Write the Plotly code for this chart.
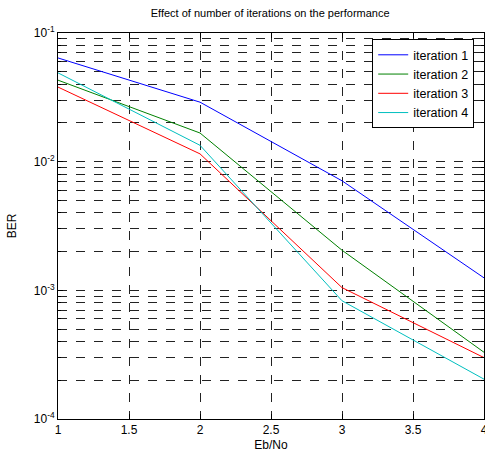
import plotly.graph_objects as go

ebno = [1, 2, 3, 4]
iter1 = [0.064, 0.029, 0.0071, 0.00125]
iter2 = [0.043, 0.0167, 0.00205, 0.00033]
iter3 = [0.038, 0.0115, 0.00105, 0.00030]
iter4 = [0.049, 0.0134, 0.00083, 0.000204]
names = ["iteration 1", "iteration 2", "iteration 3", "iteration 4"]
colors = ["#0000FF", "#008000", "#FF0000", "#00BFBF"]

x_ticks = [1, 1.5, 2, 2.5, 3, 3.5, 4]
x_ticklabels = ["1", "1.5", "2", "2.5", "3", "3.5", "4"]
y_ticks = [1e-4, 1e-3, 1e-2, 1e-1]
y_ticklabels = ["10<sup>-4</sup>", "10<sup>-3</sup>", "10<sup>-2</sup>", "10<sup>-1</sup>"]
y_minor = [m * 10.0 ** e for e in (-4, -3, -2) for m in range(2, 10)]

fig = go.Figure()
for name, ys, c in zip(names, [iter1, iter2, iter3, iter4], colors):
    fig.add_trace(go.Scatter(x=ebno, y=ys, mode="lines", name=name,
                             line=dict(color=c, width=1)))

font = dict(family="Liberation Sans, Arial, sans-serif", size=11, color="black")
fig.update_layout(
    width=485, height=463,
    margin=dict(l=58, r=1, t=33, b=44),
    paper_bgcolor="white", plot_bgcolor="white",
    font=font,
    title=dict(text="Effect of number of iterations on the performance",
               x=0.557, xanchor="center", y=0.972, yanchor="middle",
               font=dict(size=11)),
    legend=dict(x=0.977, y=0.984, xanchor="right", yanchor="top",
                bgcolor="white", bordercolor="black", borderwidth=1,
                font=dict(size=12.5), tracegroupgap=0,
                entrywidth=66, entrywidthmode="pixels"),
    showlegend=True,
)
fig.update_xaxes(
    range=[1, 4], tickvals=x_ticks, ticktext=x_ticklabels,
    showline=True, linecolor="black", linewidth=1, mirror="allticks",
    ticks="inside", ticklen=5, tickcolor="black",
    showgrid=True, gridcolor="#222", griddash="dash", gridwidth=1,
    zeroline=False, automargin=False, ticklabeloverflow="allow",
    title=dict(text="Eb/No", standoff=4, font=dict(size=12)),
    tickfont=dict(size=12),
)
fig.update_yaxes(
    type="log", range=[-4, -1], tickvals=y_ticks, ticktext=y_ticklabels,
    showline=True, linecolor="black", linewidth=1, mirror="allticks",
    ticks="inside", ticklen=5, tickcolor="black",
    showgrid=True, gridcolor="#222", griddash="dash", gridwidth=1,
    zeroline=False, automargin=False,
    minor=dict(tickmode="array", tickvals=y_minor, ticks="inside", ticklen=3,
               tickcolor="black", showgrid=True, gridcolor="#222",
               griddash="dash", gridwidth=1),
    title=dict(text="BER", standoff=14, font=dict(size=12)),
    tickfont=dict(size=12),
)
fig.write_html(
    "out.html",
    config={"displayModeBar": False},
    post_script="document.body.style.margin='0';document.body.style.overflow='hidden';",
)
